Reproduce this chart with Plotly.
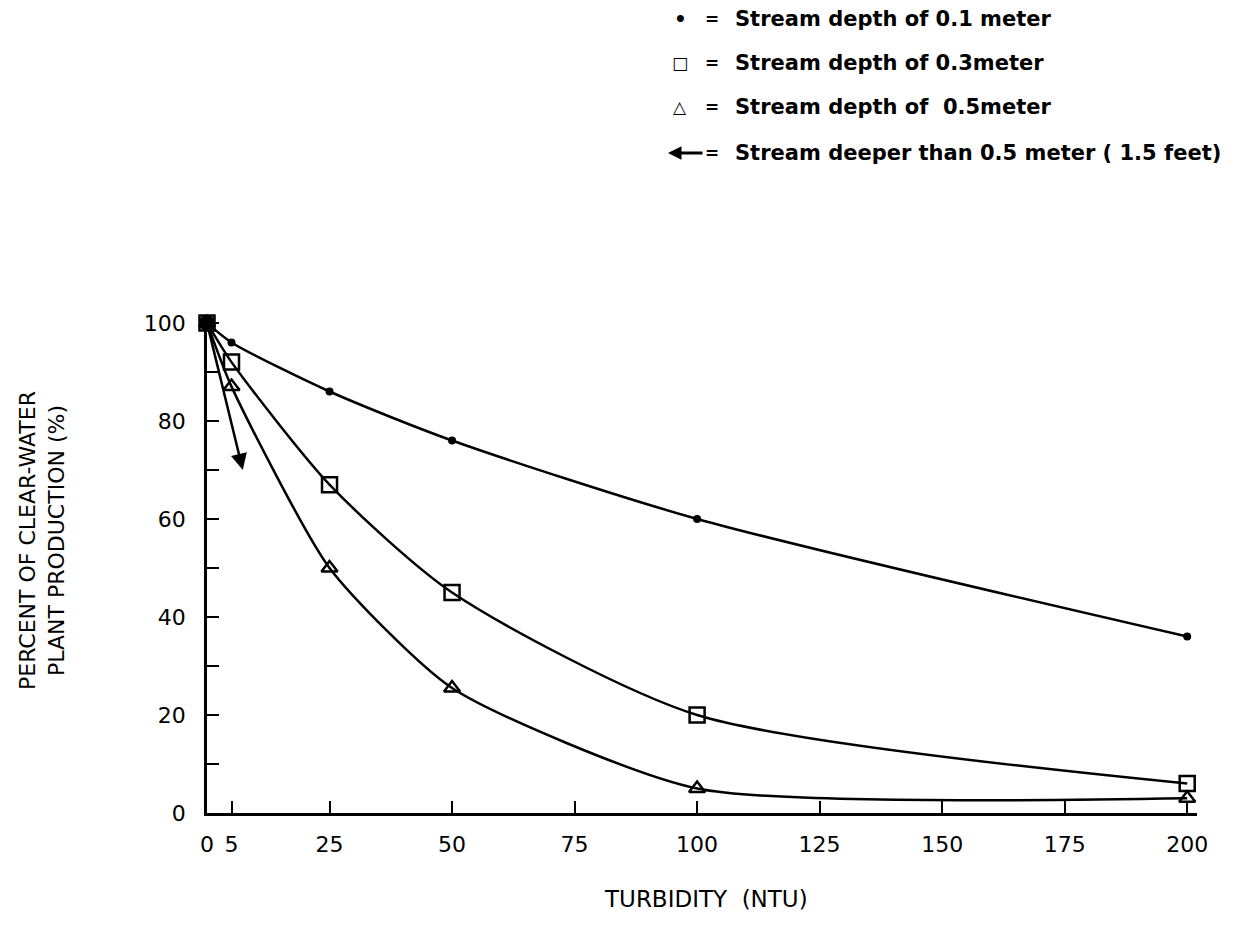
import plotly.graph_objects as go

turbidity = [0, 5, 25, 50, 100, 200]
depth_01 = [100, 96, 86, 76, 60, 36]
depth_03 = [100, 92, 67, 45, 20, 6]
depth_05 = [100, 87, 50, 25.5, 5, 3]
deeper_start = [0, 100]
deeper_end = [7.3, 70]

x_ticks = [0, 5, 25, 50, 75, 100, 125, 150, 175, 200]
y_ticks = [0, 20, 40, 60, 80, 100]

legend_labels = [
    "Stream depth of 0.1 meter",
    "Stream depth of 0.3meter",
    "Stream depth of  0.5meter",
    "Stream deeper than 0.5 meter ( 1.5 feet)",
]
legend_symbols = ["•", "□", "△", ""]

FONT = "DejaVu Sans"
W, H = 1251, 937
OFF = 8  # page body margin
L, R, T, B = 207 - OFF, 54 + OFF, 318 - OFF, 124 + OFF
PW, PH = W - L - R, H - T - B


def px(xs):
    return (xs - OFF - L) / PW


def py(ys):
    return (H - B - (ys - OFF)) / PH


fig = go.Figure()

fig.add_trace(go.Scatter(x=turbidity, y=depth_01, mode="lines+markers",
                         line=dict(color="black", width=2.5, shape="spline", smoothing=0.7),
                         marker=dict(symbol="circle", size=8, color="black"),
                         cliponaxis=False, showlegend=False))
fig.add_trace(go.Scatter(x=turbidity, y=depth_03, mode="lines+markers",
                         line=dict(color="black", width=2.5, shape="spline", smoothing=0.7),
                         marker=dict(symbol="square-open", size=15, color="black", line=dict(width=2.5)),
                         cliponaxis=False, showlegend=False))
fig.add_trace(go.Scatter(x=turbidity, y=depth_05, mode="lines+markers",
                         line=dict(color="black", width=2.5, shape="spline", smoothing=0.6),
                         marker=dict(symbol="triangle-up-open", size=14, color="black", line=dict(width=2.5)),
                         cliponaxis=False, showlegend=False))
# blob at origin
fig.add_trace(go.Scatter(x=[turbidity[0]], y=[depth_01[0]], mode="markers",
                         marker=dict(symbol="circle", size=16, color="black"),
                         cliponaxis=False, showlegend=False))

fig.add_annotation(x=deeper_end[0], y=deeper_end[1], ax=deeper_start[0], ay=deeper_start[1],
                   xref="x", yref="y", axref="x", ayref="y", showarrow=True,
                   arrowhead=2, arrowsize=1.3, arrowwidth=2.5, arrowcolor="black", text="")

# Legend as annotations
leg_y = [19, 63, 107, 153]
for i, (sym, lab) in enumerate(zip(legend_symbols, legend_labels)):
    yp = py(leg_y[i])
    fig.add_annotation(x=px(733), y=yp, xref="paper", yref="paper", xanchor="left", yanchor="middle",
                       text="<b>" + lab + "</b>", showarrow=False,
                       font=dict(family=FONT, size=21, color="black"))
    fig.add_annotation(x=px(712), y=yp, xref="paper", yref="paper", xanchor="center", yanchor="middle",
                       text="<b>=</b>", showarrow=False, font=dict(family=FONT, size=17, color="black"))
    if sym:
        fig.add_annotation(x=px(680), y=yp, xref="paper", yref="paper", xanchor="center", yanchor="middle",
                           text="<b>" + sym + "</b>", showarrow=False,
                           font=dict(family=FONT, size=20 if sym == "•" else 17, color="black"))
    else:
        fig.add_annotation(x=px(668), y=yp, xref="paper", yref="paper", showarrow=True,
                           ax=36, ay=0, text="",
                           arrowhead=2, arrowsize=0.9, arrowwidth=3, arrowcolor="black")

# Axis titles
fig.add_annotation(x=px(42), y=py(541), xref="paper", yref="paper", xanchor="center", yanchor="middle",
                   text="PERCENT OF CLEAR-WATER<br>PLANT PRODUCTION (%)", textangle=-90,
                   showarrow=False, font=dict(family=FONT, size=22, color="black"))
fig.add_annotation(x=px(706), y=py(899), xref="paper", yref="paper", xanchor="center", yanchor="middle",
                   text="TURBIDITY  (NTU)", showarrow=False,
                   font=dict(family=FONT, size=23, color="black"))

fig.update_xaxes(range=[0, 202], tickvals=x_ticks, ticktext=[str(v) for v in x_ticks],
                 ticks="inside", ticklen=12, tickwidth=2, tickcolor="black",
                 showline=True, linecolor="black", linewidth=2.5, showgrid=False, zeroline=False,
                 tickfont=dict(family=FONT, size=22, color="black"), ticklabelstandoff=10)
fig.update_yaxes(range=[0, 101], tickvals=y_ticks,
                 ticks="inside", ticklen=12, tickwidth=2, tickcolor="black",
                 minor=dict(dtick=10, ticks="inside", ticklen=12, tickwidth=2, tickcolor="black"),
                 showline=True, linecolor="black", linewidth=2.5, showgrid=False, zeroline=False,
                 tickfont=dict(family=FONT, size=22, color="black"), ticklabelstandoff=14)

fig.update_layout(width=W, height=H, margin=dict(l=L, r=R, t=T, b=B),
                  plot_bgcolor="white", paper_bgcolor="white", showlegend=False)

fig.write_html("out.html")
